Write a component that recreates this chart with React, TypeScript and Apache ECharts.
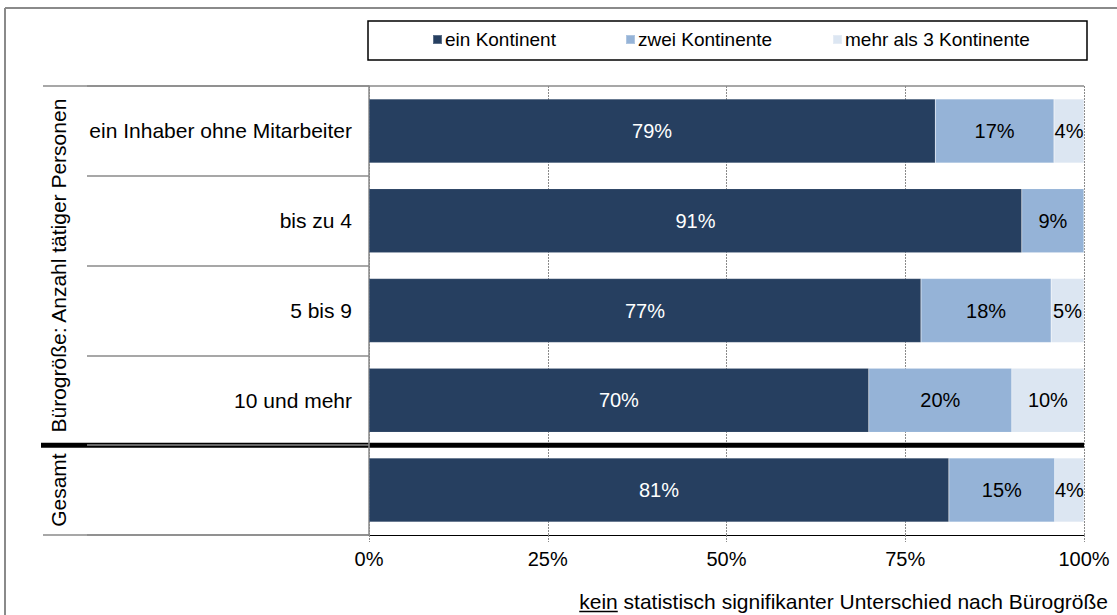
import React, { useEffect, useRef } from 'react';
import * as echarts from 'echarts';

const categories = ['ein Inhaber ohne Mitarbeiter', 'bis zu 4', '5 bis 9', '10 und mehr', ''];
const seriesNames = ['ein Kontinent', 'zwei Kontinente', 'mehr als 3 Kontinente'];
const einKontinent = [79.2, 91.3, 77.2, 69.9, 81.1];
const zweiKontinente = [16.6, 8.7, 18.2, 20.0, 14.8];
const mehrAls3Kontinente = [4.2, 0, 4.6, 10.1, 4.1];
const groupLabels = ['Bürogröße: Anzahl tätiger Personen', 'Gesamt'];
const footUnderlined = 'kein';
const footRest = ' statistisch signifikanter Unterschied nach Bürogröße';

const FONT = '"Liberation Sans", Arial, sans-serif';
const COLORS = ['#263F60', '#95B3D7', '#DCE6F2'];
const GRAY = '#8a8a8a';
const W = 1117;
const H = 615;
const GRID = { left: 369, right: 33, top: 86, bottom: 80 };

function measure(text: string, size: number) {
  const c = document.createElement('canvas').getContext('2d')!;
  c.font = `${size}px "Liberation Sans", Arial, sans-serif`;
  return c.measureText(text).width;
}

export default function App() {
  const ref = useRef<HTMLDivElement>(null);
  useEffect(() => {
    document.body.style.margin = '0';
    const chart = echarts.init(ref.current!, null, { renderer: 'svg' });
    const labelFmt = (p: any) => (p.value > 0 ? Math.round(p.value) + '%' : '');
    const mk = (name: string, data: number[], i: number) => ({
      name,
      type: 'bar',
      stack: 'total',
      data,
      barWidth: 64,
      itemStyle: { color: COLORS[i], borderColor: 'rgba(255,255,255,0.25)', borderWidth: 0.5 },
      label: {
        show: true,
        position: 'inside',
        formatter: labelFmt,
        fontSize: 20,
        fontFamily: FONT,
        color: i === 0 ? '#ffffff' : '#000000',
      },
    });
    const legendBase = {
      top: 30,
      padding: 0,
      itemWidth: 9,
      itemHeight: 9,
      icon: 'rect',
      textStyle: { fontSize: 19, fontFamily: FONT, color: '#000', padding: [0, 0, 0, -2] },
    };
    chart.setOption({
      animation: false,
      color: COLORS,
      textStyle: { fontFamily: FONT },
      legend: [
        { ...legendBase, left: 432, data: [seriesNames[0]] },
        { ...legendBase, left: 625, data: [seriesNames[1]] },
        { ...legendBase, left: 832, data: [seriesNames[2]] },
      ],
      grid: { ...GRID, containLabel: false },
      xAxis: {
        type: 'value',
        min: 0,
        max: 100,
        interval: 25,
        axisLabel: { formatter: '{value}%', fontSize: 20, fontFamily: FONT, color: '#000', margin: 14 },
        axisLine: { show: true, lineStyle: { color: '#000', width: 1.2 } },
        axisTick: { show: true, length: 7, lineStyle: { color: GRAY, type: [2, 1], width: 1 } },
        splitLine: { show: true, lineStyle: { color: GRAY, type: [2, 1], width: 1 } },
      },
      yAxis: {
        type: 'category',
        inverse: true,
        data: categories,
        axisLabel: { fontSize: 21, fontFamily: FONT, color: '#000', margin: 17 },
        axisLine: { show: true, lineStyle: { color: GRAY, width: 1.5 } },
        axisTick: { show: true, length: 282, lineStyle: { color: GRAY, width: 1.5 } },
        splitLine: { show: false },
      },
      series: [
        mk(seriesNames[0], einKontinent, 0),
        mk(seriesNames[1], zweiKontinente, 1),
        mk(seriesNames[2], mehrAls3Kontinente, 2),
      ],
    });

    // positions derived from the axis scales
    const cy = categories.map((_, i) => chart.convertToPixel({ yAxisIndex: 0 }, i) as number);
    const band = cy[1] - cy[0];
    const top = cy[0] - band / 2;
    const bottom = cy[4] + band / 2;
    const sep = (cy[3] + cy[4]) / 2;
    const x0 = chart.convertToPixel({ xAxisIndex: 0 }, 0) as number;
    const x100 = chart.convertToPixel({ xAxisIndex: 0 }, 100) as number;

    const wU = measure(footUnderlined, 21);
    const wR = measure(footRest, 21);
    const footRight = 1108;
    const footX = footRight - wU - wR;
    const footY = 601;

    chart.setOption({
      graphic: [
        { type: 'line', shape: { x1: 5, y1: 8, x2: W, y2: 8 }, style: { stroke: GRAY, lineWidth: 2 }, silent: true },
        { type: 'line', shape: { x1: 5, y1: 8, x2: 5, y2: H }, style: { stroke: GRAY, lineWidth: 2 }, silent: true },
        { type: 'rect', shape: { x: 368, y: 21, width: 719, height: 39 }, style: { fill: 'none', stroke: '#000', lineWidth: 1.5 }, silent: true },
        { type: 'line', shape: { x1: 43, y1: top, x2: x100, y2: top }, style: { stroke: GRAY, lineWidth: 1.5 }, silent: true },
        { type: 'line', shape: { x1: 43, y1: bottom, x2: x0, y2: bottom }, style: { stroke: GRAY, lineWidth: 1.5 }, silent: true },
        { type: 'line', shape: { x1: 41, y1: sep, x2: x100, y2: sep }, style: { stroke: '#000', lineWidth: 5 }, silent: true },
        {
          type: 'text', x: 58, y: (top + sep) / 2, rotation: Math.PI / 2,
          style: { text: groupLabels[0], fontSize: 21, fontFamily: FONT, fill: '#000', align: 'center', verticalAlign: 'middle' },
        },
        {
          type: 'text', x: 58, y: (sep + bottom) / 2, rotation: Math.PI / 2,
          style: { text: groupLabels[1], fontSize: 21, fontFamily: FONT, fill: '#000', align: 'center', verticalAlign: 'middle' },
        },
        {
          type: 'text', x: footX, y: footY,
          style: { text: footUnderlined, fontSize: 21, fontFamily: FONT, fill: '#000', align: 'left', verticalAlign: 'middle' },
        },
        { type: 'line', shape: { x1: footX, y1: footY + 10.5, x2: footX + wU, y2: footY + 10.5 }, style: { stroke: '#000', lineWidth: 1.5 }, silent: true },
        {
          type: 'text', x: footX + wU, y: footY,
          style: { text: footRest, fontSize: 21, fontFamily: FONT, fill: '#000', align: 'left', verticalAlign: 'middle' },
        },
      ],
    });
    return () => chart.dispose();
  }, []);
  return <div ref={ref} style={{ width: W, height: H, background: '#fff' }} />;
}
